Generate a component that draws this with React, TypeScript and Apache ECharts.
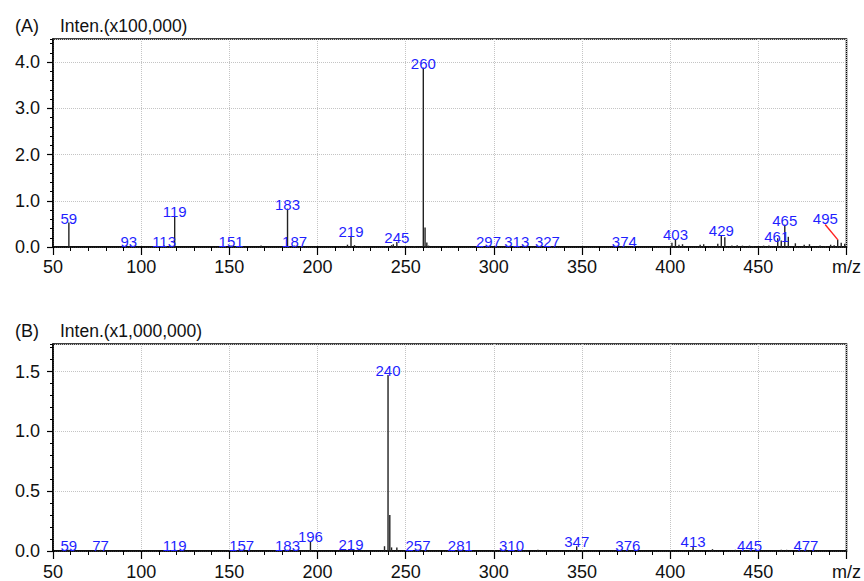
import React, { useEffect, useRef } from "react";
import * as echarts from "echarts";

// Panel A: m/z and intensity (x100,000)
const mzA = [59, 93, 113, 119, 151, 168, 183, 187, 217, 219, 221, 225, 242, 243, 245, 255, 260, 261, 262, 263, 297, 313, 327, 374, 401, 403, 405, 407, 417, 419, 427, 429, 431, 435, 438, 441, 445, 447, 453, 456, 461, 463, 465, 467, 471, 476, 479, 485, 488, 491, 493, 495, 497, 499];
const intA = [0.53, 0.02, 0.03, 0.66, 0.03, 0.03, 0.83, 0.03, 0.05, 0.24, 0.04, 0.02, 0.04, 0.06, 0.11, 0.02, 3.88, 0.42, 0.1, 0.03, 0.02, 0.02, 0.02, 0.02, 0.09, 0.17, 0.05, 0.06, 0.05, 0.06, 0.07, 0.26, 0.21, 0.03, 0.04, 0.03, 0.03, 0.02, 0.03, 0.03, 0.19, 0.14, 0.48, 0.22, 0.08, 0.05, 0.06, 0.03, 0.02, 0.05, 0.04, 0.16, 0.09, 0.07];
const labelsA = [59, 93, 113, 119, 151, 183, 187, 219, 245, 260, 297, 313, 327, 374, 403, 429, 461, 465];
// leader line for the 495 label (label point -> peak top)
const leaderA = [[488, 0.48], [495, 0.16]];
const leaderLabelA = "495";

// Panel B: m/z and intensity (x1,000,000)
const mzB = [59, 77, 119, 157, 183, 196, 219, 238, 240, 241, 242, 245, 257, 281, 310, 325, 347, 376, 413, 424, 437, 445, 463, 466, 477];
const intB = [0.01, 0.01, 0.012, 0.01, 0.01, 0.08, 0.02, 0.04, 1.47, 0.3, 0.03, 0.03, 0.01, 0.01, 0.008, 0.01, 0.04, 0.01, 0.04, 0.015, 0.01, 0.01, 0.01, 0.01, 0.01];
const labelsB = [59, 77, 119, 157, 183, 196, 219, 240, 257, 281, 310, 347, 376, 413, 445, 477];

const xTicks = { min: 50, max: 500, major: 50 };
const yA = { max: 4.5, major: 1, minor: 0.2 };
const yB = { max: 1.73, major: 0.5, minor: 0.1 };

// label nudges (pixels) where the instrument software shifted labels
const labelNudgeA: Record<number, number[]> = { 327: [6, 0], 461: [-1, 3] };

const FONT = "Liberation Sans, Arial, sans-serif";
const BLUE = "#1f1fff";

export default function App() {
  const ref = useRef<HTMLDivElement>(null);
  useEffect(() => {
    if (!ref.current) return;
    const chart = echarts.init(ref.current, undefined, { renderer: "svg" });

    const xAxis = (gridIndex: number, margin: number) => ({
      type: "value",
      gridIndex,
      min: xTicks.min,
      max: xTicks.max,
      interval: xTicks.major,
      axisLine: { show: true, lineStyle: { color: "#000", width: 1.5 } },
      axisTick: { show: true, length: 8, lineStyle: { color: "#000", width: 1.2 } },
      minorTick: { show: true, splitNumber: 5, length: 4, lineStyle: { color: "#000", width: 1 } },
      axisLabel: {
        formatter: (v: number) => (v === 500 ? "m/z" : String(v)),
        fontSize: 18,
        color: "#111",
        margin,
        fontFamily: FONT,
        showMinLabel: true,
        showMaxLabel: true,
      },
      splitLine: { show: true, lineStyle: { color: "#c4c4c4", type: "dotted", width: 1 } },
    });

    const yMain = (gridIndex: number, max: number, interval: number) => ({
      type: "value",
      gridIndex,
      position: "left",
      min: 0,
      max,
      interval,
      axisLine: { show: true, lineStyle: { color: "#000", width: 1.5 } },
      axisTick: { show: true, length: 6, lineStyle: { color: "#000", width: 1.2 } },
      axisLabel: {
        formatter: (v: number) => v.toFixed(1),
        fontSize: 18,
        color: "#111",
        margin: 13,
        fontFamily: FONT,
        showMaxLabel: false,
      },
      splitLine: { show: true, lineStyle: { color: "#c4c4c4", type: "dotted", width: 1 } },
    });

    const yMinor = (gridIndex: number, max: number, interval: number) => ({
      type: "value",
      gridIndex,
      position: "left",
      min: 0,
      max,
      interval,
      axisLine: { show: false },
      axisTick: { show: true, length: 3, lineStyle: { color: "#000", width: 1 } },
      axisLabel: { show: false },
      splitLine: { show: false },
    });

    const barData = (mz: number[], ints: number[], labels: number[], nudge: Record<number, number[]>) =>
      mz.map((m, i) => ({
        value: [m, ints[i]],
        label: { show: labels.includes(m), offset: nudge[m] || [0, 0] },
      }));

    const peakLabel = {
      position: "top",
      distance: -3,
      color: BLUE,
      fontSize: 15,
      fontFamily: FONT,
      formatter: (p: any) => String(p.value[0]),
    };

    const titleStyle = (size: number) => ({ fontSize: size, fontWeight: "normal", color: "#111", fontFamily: FONT });

    const option: any = {
      animation: false,
      backgroundColor: "#fff",
      title: [
        { text: "(A)", left: 10, top: 12, textStyle: titleStyle(18) },
        { text: "Inten.(x100,000)", left: 55, top: 12, textStyle: titleStyle(17.5) },
        { text: "(B)", left: 10, top: 317, textStyle: titleStyle(18) },
        { text: "Inten.(x1,000,000)", left: 55, top: 317, textStyle: titleStyle(17.5) },
      ],
      grid: [
        { left: 53, top: 39, width: 796, height: 208, show: true, borderColor: "#000", borderWidth: 1.5, backgroundColor: "transparent" },
        { left: 53, top: 344, width: 796, height: 207, show: true, borderColor: "#000", borderWidth: 1.5, backgroundColor: "transparent" },
      ],
      xAxis: [xAxis(0, 11), xAxis(1, 12)],
      yAxis: [
        yMain(0, yA.max, yA.major),
        yMinor(0, yA.max, yA.minor),
        yMain(1, yB.max, yB.major),
        yMinor(1, yB.max, yB.minor),
      ],
      series: [
        {
          type: "bar",
          xAxisIndex: 0,
          yAxisIndex: 0,
          barWidth: 1.4,
          itemStyle: { color: "#222" },
          label: peakLabel,
          data: barData(mzA, intA, labelsA, labelNudgeA),
        },
        {
          type: "line",
          xAxisIndex: 0,
          yAxisIndex: 0,
          symbol: "circle",
          symbolSize: 1,
          showSymbol: true,
          lineStyle: { color: "#ff2020", width: 1.4 },
          itemStyle: { color: "#ff2020" },
          data: leaderA.map((p, i) => ({
            value: p,
            label: {
              show: i === 0,
              position: "top",
              distance: -2,
              color: BLUE,
              fontSize: 15,
              fontFamily: FONT,
              formatter: leaderLabelA,
            },
          })),
        },
        {
          type: "bar",
          xAxisIndex: 1,
          yAxisIndex: 2,
          barWidth: 1.4,
          itemStyle: { color: "#222" },
          label: peakLabel,
          data: barData(mzB, intB, labelsB, {}),
        },
      ],
    };
    chart.setOption(option);
    return () => chart.dispose();
  }, []);

  return (
    <div
      ref={ref}
      style={{ position: "fixed", left: 0, top: 0, width: 864, height: 581, background: "#fff" }}
    />
  );
}
